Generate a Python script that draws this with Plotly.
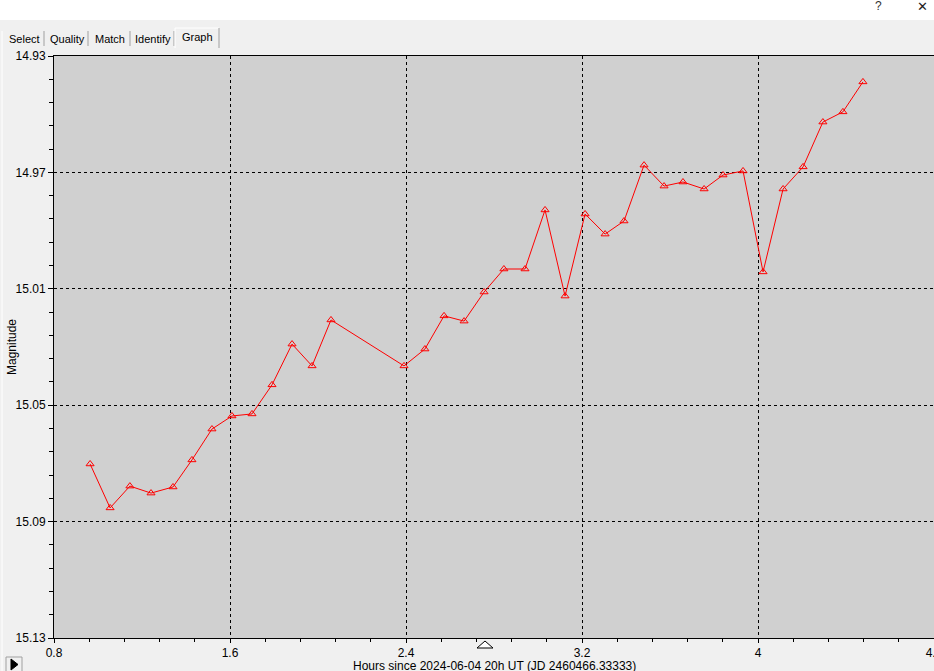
import plotly.graph_objects as go

# ---- data ----
hours = [0.964, 1.055, 1.145, 1.241, 1.341, 1.427, 1.518, 1.609, 1.700, 1.791,
         1.882, 1.973, 2.059, 2.391, 2.486, 2.573, 2.664, 2.755, 2.845, 2.941,
         3.032, 3.123, 3.214, 3.305, 3.391, 3.482, 3.573, 3.659, 3.755, 3.841,
         3.932, 4.023, 4.114, 4.205, 4.295, 4.386, 4.477]
magnitude = [15.0702, 15.0853, 15.0778, 15.0802, 15.0781, 15.0688, 15.0582, 15.0537, 15.0530, 15.0430,
             15.0290, 15.0365, 15.0207, 15.0365, 15.0307, 15.0193, 15.0211, 15.0111, 15.0032, 15.0032,
             14.9829, 15.0125, 14.9843, 14.9912, 14.9867, 14.9675, 14.9747, 14.9733, 14.9757, 14.9709,
             14.9695, 15.0042, 14.9757, 14.9681, 14.9527, 14.9492, 14.9389]

x_tickvals = [0.8, 1.6, 2.4, 3.2, 4.0, 4.8]
x_ticktext = ["0.8", "1.6", "2.4", "3.2", "4", "4.8"]
y_tickvals = [14.93, 14.97, 15.01, 15.05, 15.09, 15.13]
y_ticktext = ["14.93", "14.97", "15.01", "15.05", "15.09", "15.13"]
tabs = ["Select", "Quality", "Match", "Identify", "Graph"]

x_title = "Hours since 2024-06-04 20h UT (JD 2460466.33333)"
y_title = "Magnitude"

# ---- layout geometry (pixels) ----
W, H = 934, 671
L, T, R_EDGE, B_EDGE = 54, 56, 934, 638
PW, PH = R_EDGE - L, B_EDGE - T


def px(x):
    return (x - L) / PW


def py(y):
    return (B_EDGE - y) / PH


FONT = "Liberation Sans, Arial, sans-serif"

fig = go.Figure()
fig.add_trace(go.Scatter(
    x=hours, y=magnitude, mode="lines+markers",
    line=dict(color="#FF0000", width=1),
    marker=dict(symbol="triangle-up-open", size=7, color="#FF0000",
                line=dict(color="#FF0000", width=1)),
    hoverinfo="x+y", showlegend=False,
))

axis_common = dict(
    showline=True, linecolor="black", linewidth=1, mirror=True,
    ticks="outside", tickcolor="black", tickwidth=1,
    showgrid=True, gridcolor="black", gridwidth=1, griddash="3px,3px",
    zeroline=False, tickfont=dict(family=FONT, size=12, color="black"),
    ticklabeloverflow="allow", fixedrange=True, automargin=False,
)

fig.update_xaxes(
    range=[0.8, 4.8], tickvals=x_tickvals, ticktext=x_ticktext,
    ticklen=4,
    minor=dict(dtick=0.16, tick0=0.8, ticks="outside", ticklen=3,
               tickcolor="black", showgrid=False),
    ticklabelstandoff=0,
    **axis_common,
)
fig.update_yaxes(
    range=[15.13, 14.93], tickvals=y_tickvals, ticktext=y_ticktext,
    ticklen=5,
    minor=dict(dtick=0.008, tick0=14.93, ticks="outside", ticklen=4,
               tickcolor="black", showgrid=False),
    **axis_common,
)

shapes = []
annotations = []

# white title-bar strip at the very top
shapes.append(dict(type="rect", xref="paper", yref="paper", layer="below",
                   x0=px(-5), x1=px(W + 5), y0=py(20), y1=py(-5),
                   fillcolor="white", line=dict(width=0)))
annotations.append(dict(xref="paper", yref="paper", x=px(878), y=py(6), text="?",
                        showarrow=False, xanchor="center", yanchor="middle",
                        font=dict(family=FONT, size=12, color="#333333")))
annotations.append(dict(xref="paper", yref="paper", x=px(922), y=py(6), text="✕",
                        showarrow=False, xanchor="center", yanchor="middle",
                        font=dict(family="DejaVu Sans", size=13, color="#222222")))

# tabs
tab_edges = [3, 44, 88, 130, 174, 219]
for i, name in enumerate(tabs):
    x0, x1 = tab_edges[i], tab_edges[i + 1]
    selected = (name == "Graph")
    ty = 37 if selected else 39
    annotations.append(dict(xref="paper", yref="paper", x=px((x0 + x1) / 2 + 1), y=py(ty),
                            text=name, showarrow=False, xanchor="center", yanchor="middle",
                            font=dict(family=FONT, size=11, color="black")))
    if selected:
        shapes.append(dict(type="path", xref="paper", yref="paper",
                           path=f"M {px(x0+1)} {py(48)} L {px(x0+1)} {py(28)} L {px(x1)} {py(28)}",
                           line=dict(color="white", width=1)))
        shapes.append(dict(type="line", xref="paper", yref="paper",
                           x0=px(x1), x1=px(x1), y0=py(28), y1=py(48),
                           line=dict(color="#A0A0A0", width=1)))
    else:
        shapes.append(dict(type="line", xref="paper", yref="paper",
                           x0=px(x1), x1=px(x1), y0=py(31), y1=py(46),
                           line=dict(color="#A0A0A0", width=1)))
shapes.append(dict(type="line", xref="paper", yref="paper",
                   x0=px(2), x1=px(2), y0=py(31), y1=py(671),
                   line=dict(color="white", width=1)))

# small open triangle marker below the x axis
tri = f"M {px(477)} {py(648)} L {px(493)} {py(648)} L {px(485)} {py(641)} Z"
shapes.append(dict(type="path", xref="paper", yref="paper", path=tri,
                   fillcolor="white", line=dict(color="black", width=1)))

# play-button at bottom-left
shapes.append(dict(type="path", xref="paper", yref="paper",
                   path=f"M {px(6)} {py(672)} L {px(6)} {py(657)} L {px(22)} {py(657)} L {px(22)} {py(672)}",
                   line=dict(color="#A0A0A0", width=1), fillcolor="#F0F0F0"))
shapes.append(dict(type="path", xref="paper", yref="paper",
                   path=f"M {px(11)} {py(659)} L {px(18)} {py(664.5)} L {px(11)} {py(670)} Z",
                   fillcolor="black", line=dict(color="black", width=1)))

# axis titles
annotations.append(dict(xref="paper", yref="paper", x=px(494), y=py(666), text=x_title,
                        showarrow=False, xanchor="center", yanchor="middle",
                        font=dict(family=FONT, size=12, color="black")))
annotations.append(dict(xref="paper", yref="paper", x=px(12), y=py(347), text=y_title,
                        showarrow=False, xanchor="center", yanchor="middle", textangle=-90,
                        font=dict(family=FONT, size=12, color="black")))

fig.update_layout(
    width=W, height=H, autosize=False,
    margin=dict(l=L, r=W - R_EDGE, t=T, b=H - B_EDGE, pad=0, autoexpand=False),
    paper_bgcolor="#F0F0F0", plot_bgcolor="#D0D0D0",
    shapes=shapes, annotations=annotations, showlegend=False,
    font=dict(family=FONT, size=12, color="black"),
)

fig.write_html(
    "out.html",
    config={"displayModeBar": False},
    post_script="document.body.style.margin='0';document.body.style.overflow='hidden';",
)
